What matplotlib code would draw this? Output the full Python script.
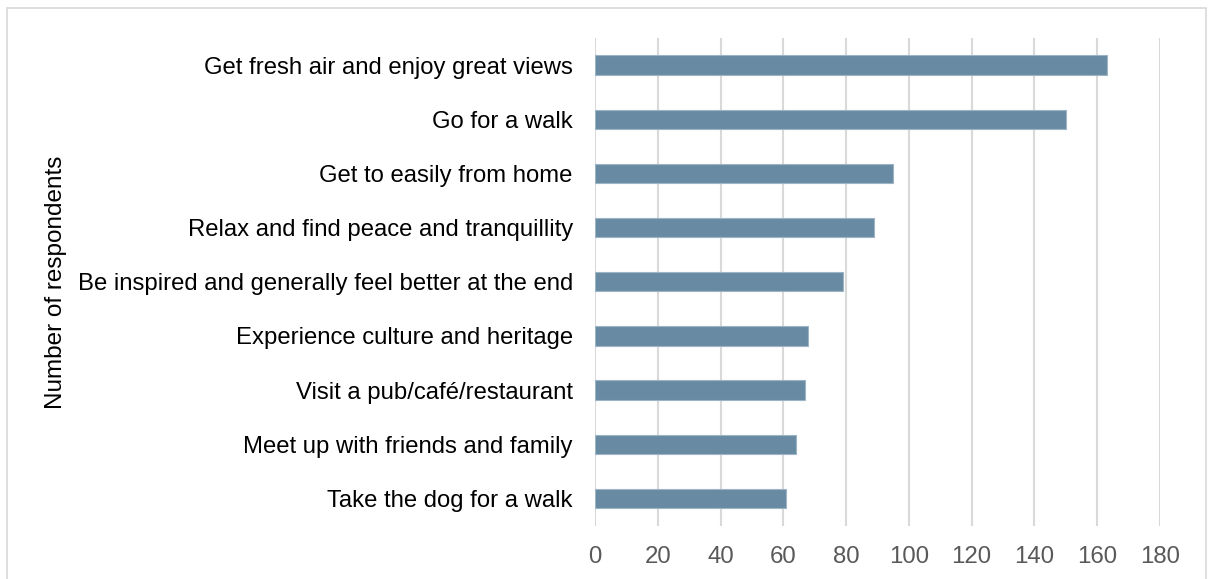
import matplotlib
matplotlib.use('Agg')
import matplotlib.pyplot as plt
from matplotlib.patches import Rectangle

plt.rcParams['font.family'] = ['Liberation Sans', 'DejaVu Sans']

# reasons for visiting, top to bottom
labels = [
    'Get fresh air and enjoy great views',
    'Go for a walk',
    'Get to easily from home',
    'Relax and find peace and tranquillity',
    'Be inspired and generally feel better at the end',
    'Experience culture and heritage',
    'Visit a pub/café/restaurant',
    'Meet up with friends and family',
    'Take the dog for a walk',
]
counts = [163, 150, 95, 89, 79, 68, 67, 64, 61]
xticks = [0, 20, 40, 60, 80, 100, 120, 140, 160, 180]

W, H = 1209, 579
fig = plt.figure(figsize=(W / 100, H / 100), dpi=100)
ax = fig.add_axes([595 / W, 1 - 525.5 / H, (1160 - 595) / W, (525.5 - 38) / H])

y = list(range(len(labels)))
ax.barh(y, counts, height=0.355, color='#688BA3', edgecolor='#9DB4C5', linewidth=0.8, zorder=3)

ax.set_xlim(0, 180)
ax.set_ylim(len(labels) - 0.5, -0.5)
ax.set_xticks(xticks)
ax.set_yticks(y)
ax.set_yticklabels(labels)
ax.grid(axis='x', color='#D9D9D9', linewidth=1.5, zorder=0)
ax.grid(axis='y', visible=False)
for s in ax.spines.values():
    s.set_visible(False)
ax.tick_params(axis='x', length=0, pad=15, labelsize=17.3, labelcolor='#595959')
ax.tick_params(axis='y', length=0, pad=16, labelsize=17.2, labelcolor='#000000')

fig.text(56 / W, 1 - 282 / H, 'Number of respondents', rotation=90,
         ha='center', va='center', fontsize=17.5, color='#000000')

# outer chart border
fig.patches.append(Rectangle((7 / W, -0.1), (1206 - 7) / W, 1.1 - 8 / H,
                             transform=fig.transFigure, fill=False,
                             edgecolor='#D9D9D9', linewidth=1.2))

fig.savefig('out.png', dpi=100)
